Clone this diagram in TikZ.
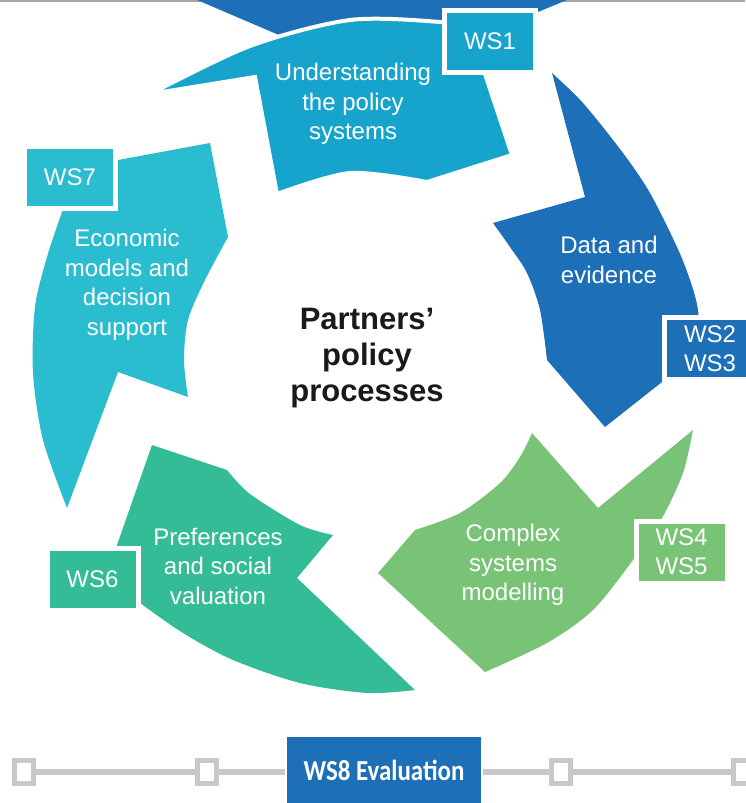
\documentclass[tikz,border=0pt]{standalone}
\usepackage{fontspec}
\setmainfont{Liberation Sans}
\newfontfamily\evalfont{Carlito}
\usetikzlibrary{positioning}

\definecolor{dataBlue}{RGB}{29,111,183}
\definecolor{policyBlue}{RGB}{22,163,204}
\definecolor{econCyan}{RGB}{42,189,208}
\definecolor{prefGreen}{RGB}{52,188,150}
\definecolor{modelGreen}{RGB}{120,195,117}
\definecolor{linkGray}{RGB}{200,200,200}
\definecolor{centerText}{RGB}{26,26,26}

\begin{document}
\begin{tikzpicture}[
  x=1pt, y=-1pt,
  arrowtext/.style={text=white, align=center, font=\fontsize{24}{29.5}\selectfont},
  wsbox/.style={draw=white, line width=5pt, minimum width=91pt, minimum height=62pt, inner sep=0pt, text=white, align=center, font=\fontsize{24}{29}\selectfont},
  joint/.style={draw=linkGray, fill=white, line width=5pt, minimum width=19pt, minimum height=23pt, inner sep=0pt},
  link/.style={draw=linkGray, line width=6pt}
]
\useasboundingbox (0,0) rectangle (745,803);
\draw[gray!70, line width=1.5pt] (0,0.75) -- (745,0.75);

% cycle of arrows
\fill[dataBlue] (197,0) -- (567,0) -- (538,12) -- (470,50) -- (300,44) -- cycle;
\filldraw[fill=policyBlue, draw=white, line width=4pt]
  plot[smooth] coordinates {(150,94) (250,46) (350,20) (440,22) (470,29)}
  -- (512,155)
  -- plot[smooth] coordinates {(427,182) (350,173) (277,194)}
  -- (255,77) -- cycle;
\fill[dataBlue]
  plot[smooth] coordinates {(552,73) (583,103) (623,153) (650,193) (677,247) (690,280) (698,310) (700,352)}
  -- (605,427)
  -- plot[smooth] coordinates {(547,360) (540,310) (527,273) (510,247) (493,223)}
  -- (585,197) -- cycle;
\fill[modelGreen] (378,573) -- (415,530)
  -- plot[smooth] coordinates {(415,530) (460,513) (500,483) (520,457) (532,433)}
  -- (598,508) -- (693,430)
  -- plot[smooth] coordinates {(693,430) (683,473) (662,518) (633,560) (593,610) (547,643) (485,672)}
  -- cycle;
\fill[prefGreen] (152,445) -- (227,470)
  -- plot[smooth] coordinates {(227,470) (250,494) (300,525) (333,535)}
  -- (297,578) -- (415,690)
  -- plot[smooth] coordinates {(415,690) (367,693) (300,683) (233,660) (183,633) (140,603)}
  -- (120,575) -- (117,545) -- cycle;
\fill[econCyan]
  plot[smooth] coordinates {(67,508) (43,440) (33,373) (35,307) (47,257) (62,212)}
  -- (85,180) -- (118,160) -- (210,143) -- (228,237)
  -- plot[smooth] coordinates {(228,237) (205,280) (188,320) (184,360) (188,397)}
  -- (118,372) -- cycle;

% texts
\node[arrowtext] (policy) at (353,104) {Understanding\\the policy\\systems};
\node[arrowtext] (data) at (609,260) {Data and\\evidence};
\node[arrowtext] (model) at (513,565) {Complex\\systems\\modelling};
\node[arrowtext] (pref) at (218,566) {Preferences\\and social\\valuation};
\node[arrowtext] (econ) at (127,285) {Economic\\models and\\decision\\support};
\node[text=centerText, align=center, font=\bfseries\fontsize{31}{36}\selectfont] (partners) at (367,358) {Partners’\\policy\\processes};

% work strands
\node[wsbox, fill=policyBlue] (ws1) at (490,41.5) {WS1};
\node[wsbox, fill=dataBlue] (ws23) at (710,348.5) {WS2\\WS3};
\node[wsbox, fill=modelGreen] (ws45) at (681.5,552) {WS4\\WS5};
\node[wsbox, fill=prefGreen] (ws6) at (92.5,579.5) {WS6};
\node[wsbox, fill=econCyan] (ws7) at (70,177.5) {WS7};

% evaluation line
\node[fill=dataBlue, minimum width=194pt, minimum height=66pt, inner sep=0pt, text=white] (ws8) at (384,770)
  {\scalebox{0.86}[1]{\evalfont\bfseries\fontsize{29}{29}\selectfont WS8 Evaluation}};
\node[joint] (j1) at (24,771.5) {};
\node[joint] (j2) at (206.5,771.5) {};
\node[joint] (j3) at (561,771.5) {};
\node[joint] (j4) at (743,771.5) {};
\draw[link] (j1) -- (j2);
\draw[link, shorten >=2pt] (j2) -- (ws8.west |- j2);
\draw[link, shorten <=2pt] (ws8.east |- j3) -- (j3);
\draw[link] (j3) -- (j4);
\end{tikzpicture}
\end{document}
